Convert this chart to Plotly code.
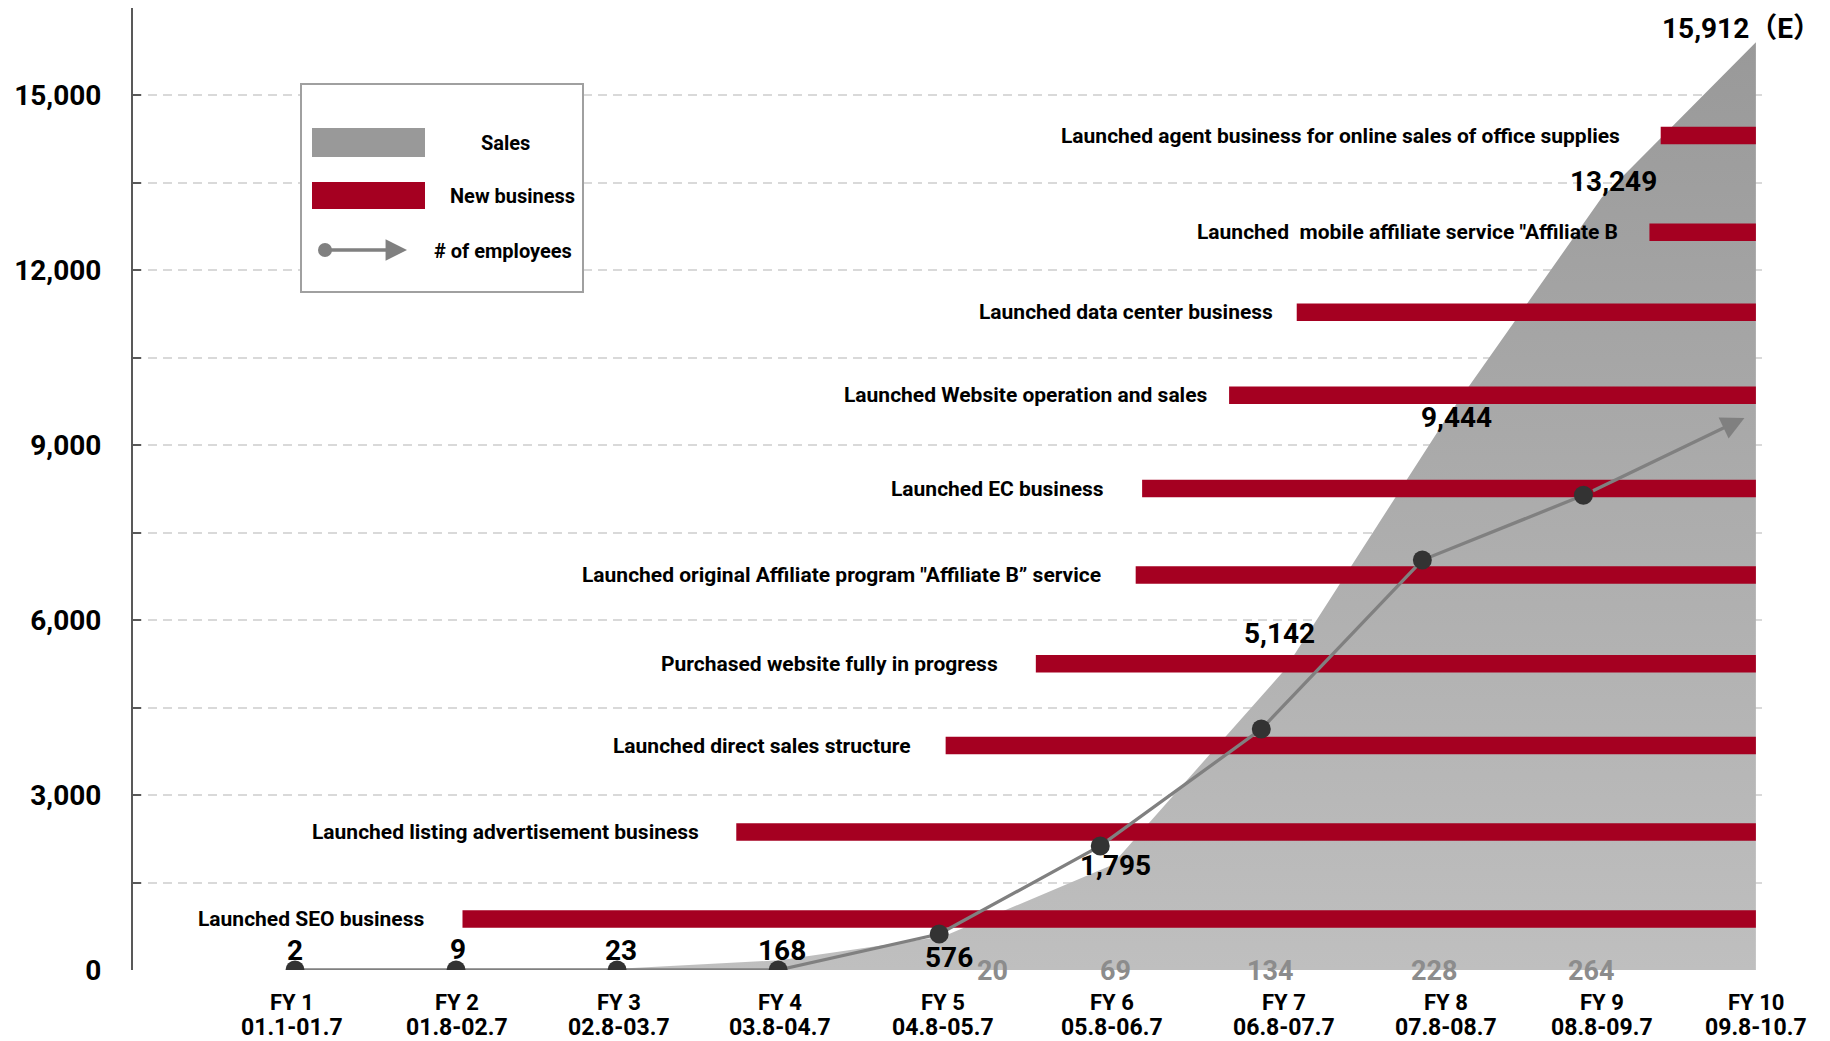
import plotly.graph_objects as go

# ---------------- data ----------------
fiscal_years = ["FY 1", "FY 2", "FY 3", "FY 4", "FY 5", "FY 6", "FY 7", "FY 8", "FY 9", "FY 10"]
periods = ["01.1-01.7", "01.8-02.7", "02.8-03.7", "03.8-04.7", "04.8-05.7",
           "05.8-06.7", "06.8-07.7", "07.8-08.7", "08.8-09.7", "09.8-10.7"]
sales = [2, 9, 23, 168, 576, 1795, 5142, 9444, 13249, 15912]
sales_labels = ["2", "9", "23", "168", "576", "1,795", "5,142", "9,444", "13,249", "15,912（E）"]
employees = [0, 0, 0, 0, 20, 69, 134, 228, 264]          # FY1 - FY9
employee_labels = ["", "", "", "", "20", "69", "134", "228", "264"]
employee_trend_end = 307                                   # arrow tip at FY10

business_names = [
    "Launched SEO business",
    "Launched listing advertisement business",
    "Launched direct sales structure",
    "Purchased website fully in progress",
    "Launched original Affiliate program \"Affiliate B\u201d service",
    "Launched EC business",
    "Launched Website operation and sales",
    "Launched data center business",
    "Launched  mobile affiliate service \"Affiliate B",
    "Launched agent business for online sales of office supplies",
]
business_level = [875, 2368, 3850, 5253, 6775, 8257, 9859, 11281, 12654, 14313]
business_start = [1.04, 2.74, 4.04, 4.60, 5.22, 5.26, 5.80, 6.22, 8.41, 8.48]

y_ticks = list(range(0, 16501, 1500))
y_ticktext = [f"{v:,}" if v % 3000 == 0 and v < 16500 else "" for v in y_ticks]

# ---------------- layout / style ----------------
PAGE_OFF = 8                      # default page margin of the html body
W, H = 1830 - PAGE_OFF, 1041 - PAGE_OFF
ML, MR, MT = 133 - PAGE_OFF, 62, 0
PH = 962
MB = H - MT - PH
PW = W - ML - MR
FONT = "Roboto, 'Liberation Sans', Arial, 'Noto Sans CJK JP', sans-serif"
WT = 700
RED = "#A50021"
LINE_GRAY = "#808080"
DOT = "#333333"

year_idx = list(range(len(fiscal_years)))
fy_label_offset = [-0.02, 0.005, 0.01, 0.01, 0.025, 0.07, 0.143, 0.144, 0.114, 0.071]
fy_pos = [i + o for i, o in zip(year_idx, fy_label_offset)]
bar_end = fy_pos[-1]

sales_dx = [3, 1, 2, 2, 6, 4, -5, 11, 12, -14]
sales_dy = [19, 20, 18, 10, -21, 0, 37, 2, 16, 14]
emp_dx = [0, 0, 0, 0, 53, 15, 9, 12, 8]
label_gap = [36, 35, 33, 36, 33, 36, 19, 22, 29, 39]


def pxx(x):
    # page pixel -> paper fraction
    return (x - PAGE_OFF - ML) / PW


def pxy(y):
    return (PAGE_OFF + MT + PH - y) / PH


fig = go.Figure()

# Sales area
fig.add_trace(go.Scatter(
    x=fy_pos, y=sales, mode="lines", line=dict(width=0, color="rgba(0,0,0,0)"),
    fill="tozeroy",
    fillgradient=dict(type="vertical", colorscale=[[0, "#bfbfbf"], [1, "#999999"]]),
    hoverinfo="skip", showlegend=False,
))

# New business bars (on an overlaid axis with the same scale so they sit above the area)
fig.add_trace(go.Bar(
    orientation="h", y=business_level, yaxis="y2",
    x=[bar_end - s for s in business_start], base=business_start,
    width=300, marker=dict(color=RED, line=dict(width=0)),
    hoverinfo="skip", showlegend=False,
))

# Employees line
fig.add_trace(go.Scatter(
    x=year_idx[:len(employees)], y=employees, yaxis="y3", mode="lines+markers",
    line=dict(color=LINE_GRAY, width=3.3),
    marker=dict(size=19, color=DOT),
    hoverinfo="skip", showlegend=False,
))

annotations = []

# arrow continuing the employees trend
annotations.append(dict(
    x=year_idx[-1], y=employee_trend_end, xref="x", yref="y3",
    ax=year_idx[len(employees) - 1], ay=employees[-1], axref="x", ayref="y3",
    text="", showarrow=True, arrowhead=2, arrowsize=1.4, arrowwidth=3.3,
    arrowcolor=LINE_GRAY, startstandoff=9,
))

# business labels
for name, lvl, st, gap in zip(business_names, business_level, business_start, label_gap):
    annotations.append(dict(
        x=st, y=lvl, xref="x", yref="y", text=name, showarrow=False,
        xanchor="right", yanchor="middle", xshift=-gap,
        font=dict(family=FONT, size=21, color="#000000", weight=WT),
    ))

# sales labels
for i, t in enumerate(sales_labels):
    annotations.append(dict(
        x=fy_pos[i], y=sales[i], xref="x", yref="y", text=t, showarrow=False,
        xanchor="center", yanchor="middle", xshift=sales_dx[i], yshift=sales_dy[i],
        font=dict(family=FONT, size=28, color="#000000", weight=WT),
    ))

# employee labels
for i, t in enumerate(employee_labels):
    if not t:
        continue
    annotations.append(dict(
        x=year_idx[i], y=0, xref="x", yref="y", text=t, showarrow=False,
        xanchor="center", yanchor="middle", xshift=emp_dx[i], yshift=-1,
        font=dict(family=FONT, size=27, color="#8c8c8c", weight=WT),
    ))

# x axis labels
for i in year_idx:
    annotations.append(dict(
        x=fy_pos[i], y=0, xref="x", yref="y", text=fiscal_years[i], showarrow=False,
        xanchor="center", yanchor="middle", yshift=-32,
        font=dict(family=FONT, size=22, color="#000000", weight=WT),
    ))
    annotations.append(dict(
        x=fy_pos[i], y=0, xref="x", yref="y", text=periods[i], showarrow=False,
        xanchor="center", yanchor="middle", yshift=-57,
        font=dict(family=FONT, size=23, color="#000000", weight=WT),
    ))

# legend
shapes = [
    dict(type="rect", xref="paper", yref="paper", x0=pxx(301), x1=pxx(583),
         y0=pxy(292), y1=pxy(84), line=dict(color="#a0a0a0", width=2),
         fillcolor="white", layer="above"),
    dict(type="rect", xref="paper", yref="paper", x0=pxx(312), x1=pxx(425),
         y0=pxy(157), y1=pxy(128), line=dict(width=0), fillcolor="#999999", layer="above"),
    dict(type="rect", xref="paper", yref="paper", x0=pxx(312), x1=pxx(425),
         y0=pxy(209), y1=pxy(182), line=dict(width=0), fillcolor=RED, layer="above"),
    dict(type="circle", xref="paper", yref="paper", x0=pxx(318), x1=pxx(332),
         y0=pxy(257), y1=pxy(243), line=dict(width=0), fillcolor=LINE_GRAY, layer="above"),
]
annotations.append(dict(
    x=pxx(407), y=pxy(250), xref="paper", yref="paper", ax=-82, ay=0,
    text="", showarrow=True, arrowhead=2, arrowsize=1.3, arrowwidth=3.3,
    arrowcolor=LINE_GRAY,
))
for txt, cx, cy in [("Sales", 505, 143), ("New business", 512, 196), ("# of employees", 503, 251)]:
    annotations.append(dict(
        x=pxx(cx), y=pxy(cy), xref="paper", yref="paper", text=txt, showarrow=False,
        xanchor="center", yanchor="middle",
        font=dict(family=FONT, size=20, color="#000000", weight=WT),
    ))

x_range = [(ML + PAGE_OFF - 295) / 161.05, (ML + PAGE_OFF + PW - 295) / 161.05]

fig.update_layout(
    width=W, height=H,
    margin=dict(l=ML, r=MR, t=MT, b=MB, pad=0),
    paper_bgcolor="white", plot_bgcolor="white",
    showlegend=False, barmode="overlay",
    xaxis=dict(range=x_range,
               showgrid=False, zeroline=False, showline=False,
               showticklabels=False, ticks=""),
    yaxis=dict(range=[0, 16500], tickvals=y_ticks, ticktext=y_ticktext,
               showgrid=True, gridcolor="#d9d9d9", gridwidth=1.5, griddash="9px,6px",
               zeroline=False, showline=True, linecolor="#595959", linewidth=2,
               ticks="inside", ticklen=8, tickwidth=2, tickcolor="#595959",
               ticklabelstandoff=24,
               tickfont=dict(family=FONT, size=28, color="#000000", weight=WT)),
    yaxis2=dict(range=[0, 16500], overlaying="y", visible=False),
    yaxis3=dict(range=[0, 535], overlaying="y", visible=False),
    shapes=shapes, annotations=annotations,
)

fig.write_html("out.html")
